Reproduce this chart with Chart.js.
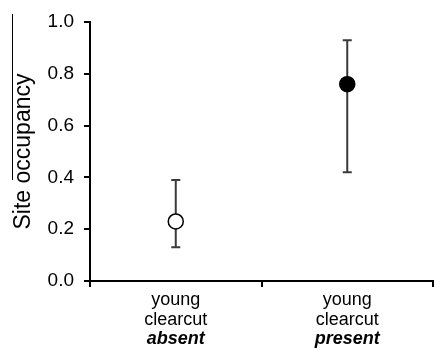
<!DOCTYPE html>
<html lang="en">
<head>
  <meta charset="UTF-8" />
  <title>Site occupancy</title>
  <script src="https://cdn.jsdelivr.net/npm/chart.js"></script>
  <style>
    html, body { margin: 0; padding: 0; background: #fff; overflow: hidden; }
    #wrap { width: 442px; height: 350px; }
  </style>
</head>
<body>
  <div id="wrap"><canvas id="occChart"></canvas></div>

  <script>
    // values
    const categories = ['absent', 'present'];
    const labelLines = ['young', 'clearcut'];
    const occupancy = [0.23, 0.76];
    const lowerCI = [0.13, 0.42];
    const upperCI = [0.39, 0.93];
    const yTickValues = [0, 0.2, 0.4, 0.6, 0.8, 1.0];

    const FONT = "'Liberation Sans', Arial, sans-serif";
    const lineH = 20;

    // error bars, drawn under the markers
    const errorBars = {
      id: 'errorBars',
      beforeDatasetsDraw(chart) {
        const { ctx, scales: { x, y } } = chart;
        ctx.save();
        ctx.strokeStyle = '#3a3a3a';
        ctx.lineWidth = 2;
        categories.forEach((c, i) => {
          const px = x.getPixelForValue(i);
          const top = y.getPixelForValue(upperCI[i]);
          const bot = y.getPixelForValue(lowerCI[i]);
          ctx.beginPath();
          ctx.moveTo(px, top); ctx.lineTo(px, bot);
          ctx.moveTo(px - 4.5, top); ctx.lineTo(px + 4.5, top);
          ctx.moveTo(px - 4.5, bot); ctx.lineTo(px + 4.5, bot);
          ctx.stroke();
        });
        ctx.restore();
      }
    };

    // bold italic last line of each category label + overline on the axis title
    const extras = {
      id: 'extras',
      afterDraw(chart) {
        const { ctx, chartArea, scales: { x, y } } = chart;
        ctx.save();
        ctx.fillStyle = '#000';
        ctx.font = `italic bold 18px ${FONT}`;
        ctx.textAlign = 'center';
        ctx.textBaseline = 'middle';
        const y0 = x.top + 9 + lineH / 2 + 2 * lineH - 1;
        categories.forEach((c, i) => {
          ctx.fillText(c, x.getPixelForValue(i), y0);
        });
        ctx.strokeStyle = '#000';
        ctx.lineWidth = 1;
        ctx.beginPath();
        ctx.moveTo(y.left + 2.5, chartArea.top - 8);
        ctx.lineTo(y.left + 2.5, chartArea.top + 158);
        ctx.stroke();
        ctx.restore();
      }
    };

    new Chart(document.getElementById('occChart'), {
      type: 'line',
      data: {
        labels: categories,
        datasets: [{
          data: occupancy,
          showLine: false,
          pointRadius: 7.5,
          pointHoverRadius: 7.5,
          pointBackgroundColor: ['#ffffff', '#000000'],
          pointBorderColor: '#000000',
          pointBorderWidth: 1.5
        }]
      },
      options: {
        responsive: true,
        maintainAspectRatio: false,
        animation: false,
        events: [],
        layout: { padding: { top: 22, right: 0, left: 10, bottom: 17 } },
        plugins: { legend: { display: false }, tooltip: { enabled: false } },
        scales: {
          x: {
            type: 'category',
            offset: true,
            border: { color: '#000', width: 2 },
            grid: { offset: true, drawOnChartArea: false, tickLength: 6, color: '#000', lineWidth: 2 },
            ticks: {
              color: '#000',
              padding: 3,
              maxRotation: 0,
              font: { family: FONT, size: 18, lineHeight: lineH / 18 },
              callback: () => labelLines
            }
          },
          y: {
            min: 0,
            max: 1,
            afterBuildTicks: (axis) => { axis.ticks = yTickValues.map(v => ({ value: v })); },
            border: { color: '#000', width: 2 },
            grid: { drawOnChartArea: false, tickLength: 6, color: '#000', lineWidth: 2 },
            ticks: {
              color: '#000',
              padding: 10,
              font: { family: FONT, size: 19 },
              callback: (v) => Number(v).toFixed(1)
            },
            title: {
              display: true,
              text: 'Site occupancy',
              color: '#000',
              font: { family: FONT, size: 23 },
              padding: { top: 0, bottom: 0 }
            }
          }
        }
      },
      plugins: [errorBars, extras]
    });
  </script>
</body>
</html>
